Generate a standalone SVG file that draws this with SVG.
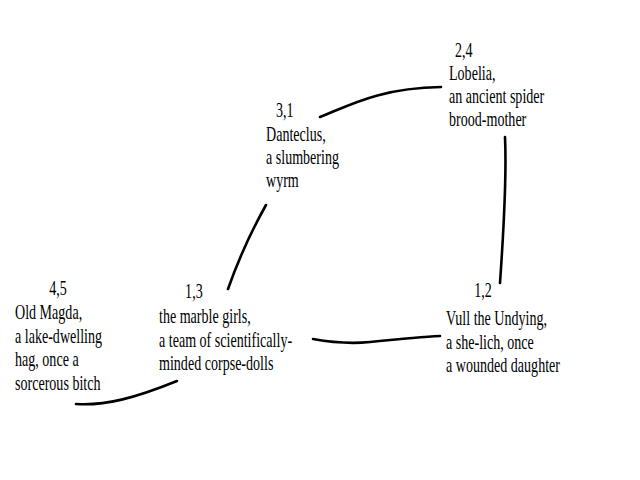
<svg xmlns="http://www.w3.org/2000/svg" width="640" height="480" viewBox="0 0 640 480">
<style>
text{font-family:"Liberation Serif","Times New Roman",serif;font-size:21px;fill:#000}
.c path{fill:none;stroke:#000;stroke-width:2.6;stroke-linecap:round}
</style>
<rect width="640" height="480" fill="#fff"/>
<g class="c" id="connectors">
<path d="M320,117 C350,105 380,88 441,87"/>
<path d="M505,137 C507,180 503,240 500,283"/>
<path d="M228,289 C240,255 252,230 266,205"/>
<path d="M76,404 C105,406 135,398 177,381"/>
<path d="M313,339 C335,343 350,344 370,342 S420,337 440,336"/>
</g>
<g id="n24" transform="translate(449 0) scale(0.67 1)"><text><tspan x="9" y="57">2,4</tspan><tspan x="0" y="80">Lobelia,</tspan><tspan x="0" y="103">an ancient spider</tspan><tspan x="0" y="126">brood-mother</tspan></text></g>
<g id="n31" transform="translate(266 0) scale(0.67 1)"><text><tspan x="15" y="117">3,1</tspan><tspan x="0" y="141">Danteclus,</tspan><tspan x="0" y="164">a slumbering</tspan><tspan x="0" y="187">wyrm</tspan></text></g>
<g id="n45" transform="translate(15 0) scale(0.67 1)"><text><tspan x="51" y="295">4,5</tspan><tspan x="0" y="319">Old Magda,</tspan><tspan x="0" y="343">a lake-dwelling</tspan><tspan x="0" y="366">hag, once a</tspan><tspan x="0" y="390">sorcerous bitch</tspan></text></g>
<g id="n13" transform="translate(159 0) scale(0.67 1)"><text><tspan x="39" y="298">1,3</tspan><tspan x="0" y="323">the marble girls,</tspan><tspan x="0" y="347">a team of scientifically-</tspan><tspan x="0" y="370">minded corpse-dolls</tspan></text></g>
<g id="n12" transform="translate(446 0) scale(0.67 1)"><text><tspan x="42" y="297">1,2</tspan><tspan x="0" y="325">Vull the Undying,</tspan><tspan x="0" y="349">a she-lich, once</tspan><tspan x="0" y="372">a wounded daughter</tspan></text></g>
</svg>
